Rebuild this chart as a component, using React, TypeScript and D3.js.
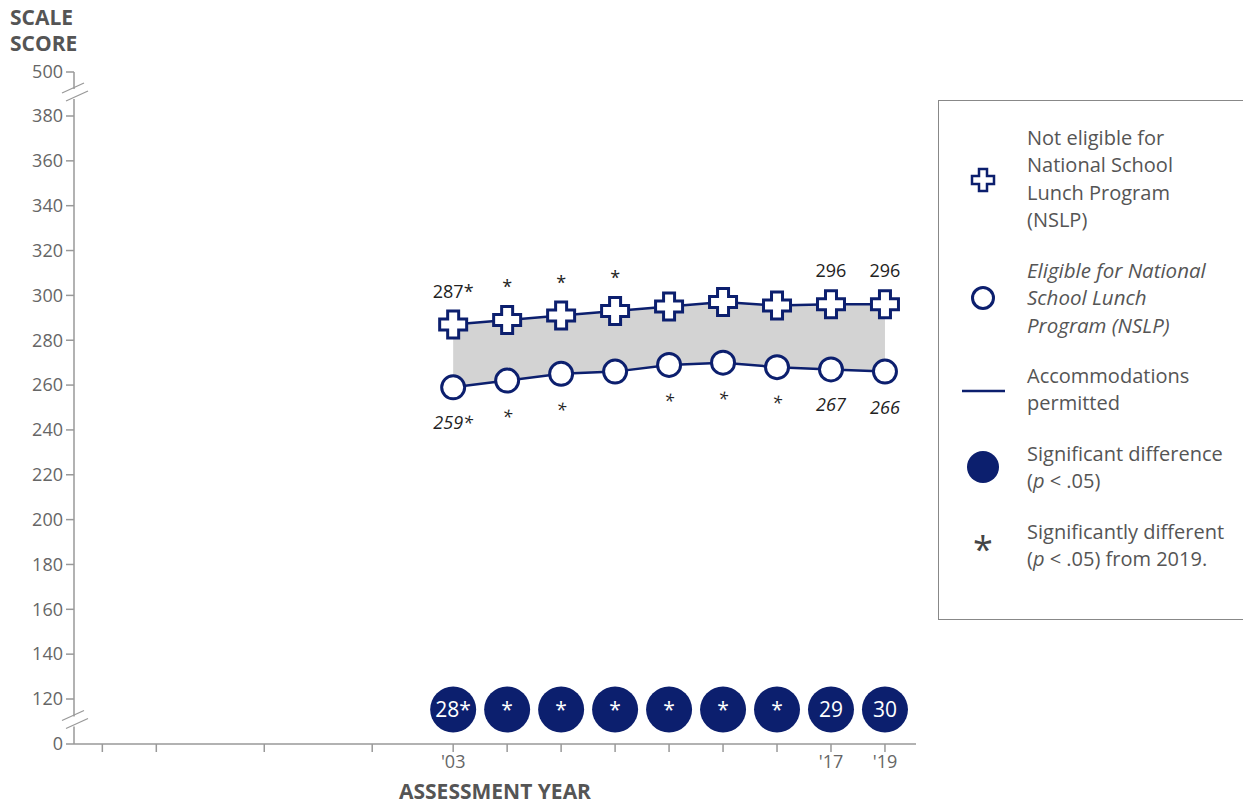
import React from "react";
import * as d3 from "d3";

const years = [2003, 2005, 2007, 2009, 2011, 2013, 2015, 2017, 2019];
const tickYears = [1990, 1992, 1996, 2000, 2003, 2005, 2007, 2009, 2011, 2013, 2015, 2017, 2019];
const tickYearLabels = ["", "", "", "", "'03", "", "", "", "", "", "", "'17", "'19"];
const notEligible = [287, 289, 291, 293, 295, 297, 295.5, 296, 296];
const eligible = [259, 262, 265, 266, 269, 270, 268, 267, 266];
const notEligibleLabels = ["287*", "*", "*", "*", "", "", "", "296", "296"];
const eligibleLabels = ["259*", "*", "*", "", "*", "*", "*", "267", "266"];
const gapLabels = ["28*", "*", "*", "*", "*", "*", "*", "29", "30"];
const yTicks = [0, 120, 140, 160, 180, 200, 220, 240, 260, 280, 300, 320, 340, 360, 380, 500];
const GAP_Y = 116;

const NAVY = "#0c1f6e";
const FONT = "'Open Sans', sans-serif";

const x = d3.scaleLinear().domain([1988.95, 2020.15]).range([74, 916]);
const y = d3.scaleLinear().domain([0, 120, 380, 500]).range([744, 699, 116, 72]);

function plusPath(cx: number, cy: number) {
  const a = 13.5, b = 5.5;
  return `M${cx - b},${cy - a}H${cx + b}V${cy - b}H${cx + a}V${cy + b}H${cx + b}V${cy + a}H${cx - b}V${cy + b}H${cx - a}V${cy - b}H${cx - b}Z`;
}

function BreakMark({ yy }: { yy: number }) {
  return (
    <g>
      <rect x={70} y={yy - 5} width={8} height={10} fill="white" />
      <line x1={62} y1={yy - 1} x2={84} y2={yy - 11} stroke="#999" strokeWidth={1.3} />
      <line x1={66} y1={yy + 7} x2={88} y2={yy - 3} stroke="#999" strokeWidth={1.3} />
    </g>
  );
}

export default function App() {
  const data = years.map((yr, i) => ({ yr, hi: notEligible[i], lo: eligible[i] }));
  const area = d3
    .area<{ yr: number; hi: number; lo: number }>()
    .x((d) => x(d.yr))
    .y0((d) => y(d.lo))
    .y1((d) => y(d.hi))(data) as string;
  const lineHi = d3.line<{ yr: number; hi: number; lo: number }>().x((d) => x(d.yr)).y((d) => y(d.hi))(data) as string;
  const lineLo = d3.line<{ yr: number; hi: number; lo: number }>().x((d) => x(d.yr)).y((d) => y(d.lo))(data) as string;

  const legendText = "#555";
  return (
    <svg width={1243} height={804} style={{ position: "absolute", left: 0, top: 0 }} fontFamily={FONT}>
      {/* Axis titles */}
      <text x={10} y={25} fontSize={21} fontWeight={700} fill="#555">SCALE</text>
      <text x={10} y={51} fontSize={21} fontWeight={700} fill="#555">SCORE</text>
      <text x={495} y={799} fontSize={21} fontWeight={700} fill="#555" textAnchor="middle">ASSESSMENT YEAR</text>

      {/* Y axis */}
      <line x1={74} y1={72} x2={74} y2={744} stroke="#999" strokeWidth={1.5} />
      {yTicks.map((t) => (
        <g key={t}>
          <line x1={66} x2={74} y1={y(t)} y2={y(t)} stroke="#999" strokeWidth={1.5} />
          <text x={63} y={y(t)} dy="0.35em" fontSize={18} fill="#666" textAnchor="end">{t}</text>
        </g>
      ))}
      <BreakMark yy={y(440)} />
      <BreakMark yy={y(60)} />

      {/* X axis */}
      <line x1={74} y1={744} x2={916} y2={744} stroke="#999" strokeWidth={1.5} />
      {tickYears.map((t, i) => (
        <g key={t}>
          <line x1={x(t)} x2={x(t)} y1={744} y2={752} stroke="#999" strokeWidth={1.5} />
          <text x={x(t)} y={762} dy="0.35em" fontSize={18} fill="#666" textAnchor="middle">{tickYearLabels[i]}</text>
        </g>
      ))}

      {/* Area and lines */}
      <path d={area} fill="#d3d3d3" />
      <path d={lineHi} fill="none" stroke={NAVY} strokeWidth={2.5} />
      <path d={lineLo} fill="none" stroke={NAVY} strokeWidth={2.5} />
      {data.map((d, i) => (
        <g key={d.yr}>
          <path d={plusPath(x(d.yr), y(d.hi))} fill="white" stroke={NAVY} strokeWidth={3} />
          <circle cx={x(d.yr)} cy={y(d.lo)} r={11.5} fill="white" stroke={NAVY} strokeWidth={3} />
          <text x={x(d.yr)} y={y(d.hi) - 27} fontSize={18} fill="#222" textAnchor="middle">{notEligibleLabels[i]}</text>
          <text x={x(d.yr)} y={y(d.lo) + 42} fontSize={18} fill="#222" fontStyle="italic" textAnchor="middle">{eligibleLabels[i]}</text>
          <circle cx={x(d.yr)} cy={y(GAP_Y) + 9} r={23} fill={NAVY} />
          <text x={x(d.yr)} y={y(GAP_Y) + 9} dy="0.36em" fontSize={21} fill="white" textAnchor="middle">{gapLabels[i]}</text>
        </g>
      ))}

      {/* Legend */}
      <rect x={938.5} y={100.5} width={320} height={519} fill="white" stroke="#888" strokeWidth={1} />
      <g fontSize={20} fill={legendText}>
        <path d={`M${983 - 4},${180 - 11}H${983 + 4}V${180 - 4}H${983 + 11}V${180 + 4}H${983 + 4}V${180 + 11}H${983 - 4}V${180 + 4}H${983 - 11}V${180 - 4}H${983 - 4}Z`} fill="white" stroke={NAVY} strokeWidth={2.5} />
        {["Not eligible for", "National School", "Lunch Program", "(NSLP)"].map((s, i) => (
          <text key={s} x={1027} y={138 + i * 27.3} dy="0.35em">{s}</text>
        ))}
        <circle cx={983} cy={298} r={10.5} fill="white" stroke={NAVY} strokeWidth={3} />
        {["Eligible for National", "School Lunch", "Program (NSLP)"].map((s, i) => (
          <text key={s} x={1027} y={271 + i * 27.3} dy="0.35em" fontStyle="italic" fontSize={20.5}>{s}</text>
        ))}
        <line x1={962} x2={1005} y1={391} y2={391} stroke={NAVY} strokeWidth={2.5} />
        {["Accommodations", "permitted"].map((s, i) => (
          <text key={s} x={1027} y={376 + i * 27.3} dy="0.35em">{s}</text>
        ))}
        <circle cx={983} cy={467} r={16} fill={NAVY} />
        <text x={1027} y={454} dy="0.35em">Significant difference</text>
        <text x={1027} y={481.3} dy="0.35em">(<tspan fontStyle="italic">p</tspan> &lt; .05)</text>
        <text x={983} y={562} fontSize={36} fill="#444" textAnchor="middle">*</text>
        <text x={1027} y={532} dy="0.35em">Significantly different</text>
        <text x={1027} y={559.3} dy="0.35em">(<tspan fontStyle="italic">p</tspan> &lt; .05) from 2019.</text>
      </g>
    </svg>
  );
}
